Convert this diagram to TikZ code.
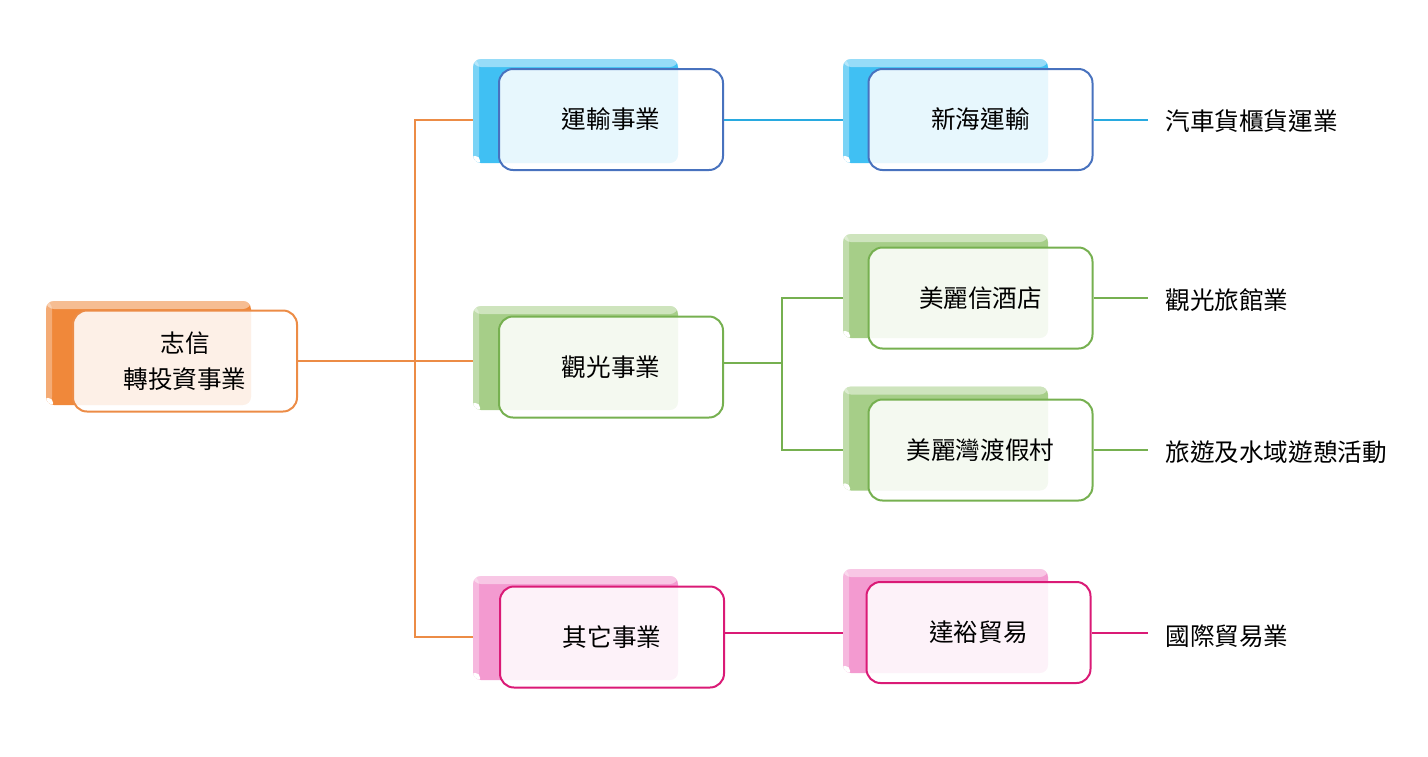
\documentclass[tikz,border=0pt]{standalone}
\usepackage{fontspec}
\setmainfont{Noto Sans CJK TC}
\usepackage{tikz}
\usetikzlibrary{calc,positioning,backgrounds}
\definecolor{my_orange}{RGB}{240, 136, 58}
\definecolor{my_orange_l}{RGB}{236, 140, 70}
\definecolor{my_blue}{RGB}{64, 192, 243}
\definecolor{my_blue_d}{RGB}{72, 114, 190}
\definecolor{my_blue_l}{RGB}{40, 170, 224}
\definecolor{my_green}{RGB}{166, 206, 136}
\definecolor{my_green_d}{RGB}{118, 176, 80}
\definecolor{my_pink}{RGB}{243, 154, 208}
\definecolor{my_pink_d}{RGB}{218, 26, 118}
\tikzset{
  biznode/.style = {draw, rounded corners=7pt, fill=white, fill opacity=0.88, text opacity=1,
  minimum width=112pt, minimum height=50.5pt, line width=1pt, align=center, text=black,
  font=\fontsize{12.3}{18}\selectfont},
  biz_o/.style = {biznode, draw=my_orange_l},
  biz_b/.style = {biznode, draw=my_blue_d},
  biz_g/.style = {biznode, draw=my_green_d},
  biz_p/.style = {biznode, draw=my_pink_d},
  tab/.style = {rounded corners=4pt, inner sep=0pt, minimum width=102.5pt, minimum height=52pt,
  fill=#1, path picture={
    \fill[white, opacity=0.45] (path picture bounding box.north west) rectangle
      ([yshift=-4pt]path picture bounding box.north east);
    \fill[white, opacity=0.3] (path picture bounding box.north west) rectangle
      ([xshift=3pt]path picture bounding box.south west);
    \fill[white] ([shift={(1pt,1pt)}]path picture bounding box.south west) circle (2.6pt);}},
  leaf/.style = {anchor=west, inner xsep=8.5pt, inner ysep=2pt, font=\fontsize{12.3}{18}\selectfont}
}

\begin{document}
\begin{tikzpicture}[x=0.5pt, y=-0.5pt,
        	line_o/.style={draw=my_orange_l, line width=1pt},
        	line_b/.style={draw=my_blue_l, line width=1pt},
        	line_g/.style={draw=my_green_d, line width=1pt},
        	line_p/.style={draw=my_pink_d, line width=1pt}]
    \useasboundingbox (0,0) rectangle (1428,756);
    % front boxes
    \node [biz_o] (root) at (185,361) {志信\\轉投資事業};
    \node [biz_b] (trans) at (611,119.5) {運輸事業};
    \node [biz_g] (tour) at (611,367) {觀光事業};
    \node [biz_p] (other) at (612,637) {其它事業};
    \node [biz_b] (xinhai) at (980.5,119.5) {新海運輸};
    \node [biz_g] (hotel) at (980.5,298) {美麗信酒店};
    \node [biz_g] (resort) at (980.5,450) {美麗灣渡假村};
    \node [biz_p] (dayu) at (978.5,632.5) {達裕貿易};
    % tabs behind
    \begin{scope}[on background layer]
        \node [tab=my_orange] (root_t) at ([shift={(-36.5,-8)}]root.center) {};
        \node [tab=my_blue] (trans_t) at ([shift={(-35.5,-8.5)}]trans.center) {};
        \node [tab=my_green] (tour_t) at ([shift={(-35.5,-9)}]tour.center) {};
        \node [tab=my_pink] (other_t) at ([shift={(-36.5,-9)}]other.center) {};
        \node [tab=my_blue] (xinhai_t) at ([shift={(-35,-8.5)}]xinhai.center) {};
        \node [tab=my_green] (hotel_t) at ([shift={(-35,-12)}]hotel.center) {};
        \node [tab=my_green] (resort_t) at ([shift={(-35,-11.5)}]resort.center) {};
        \node [tab=my_pink] (dayu_t) at ([shift={(-33,-11.5)}]dayu.center) {};
    \end{scope}
    % leaves
    \node [leaf] (l_truck) at (1148,121) {汽車貨櫃貨運業};
    \node [leaf] (l_hotel) at (1148,300) {觀光旅館業};
    \node [leaf] (l_resort) at (1148,452) {旅遊及水域遊憩活動};
    \node [leaf] (l_trade) at (1148,636) {國際貿易業};
    % connectors
    \coordinate (trunk) at (415,361);
    \coordinate (split) at (782,363);
    \draw [line_o] (root.east) -- (trunk);
    \draw [line_o] (trunk) |- (trans_t.west |- trans.west);
    \draw [line_o] (trunk) -- (tour_t.west |- trunk);
    \draw [line_o] (trunk) |- (other_t.west |- other.west);
    \draw [line_b] (trans.east) -- (xinhai_t.west |- trans.east);
    \draw [line_g] (tour.east |- split) -- (split);
    \draw [line_g] (split) |- (hotel_t.west |- hotel.west);
    \draw [line_g] (split) |- (resort_t.west |- resort.west);
    \draw [line_p] (other.east |- dayu.east) -- (dayu_t.west |- dayu.east);
    \draw [line_b] (xinhai.east) -- (xinhai.east -| l_truck.west);
    \draw [line_g] (hotel.east) -- (hotel.east -| l_hotel.west);
    \draw [line_g] (resort.east) -- (resort.east -| l_resort.west);
    \draw [line_p] (dayu.east) -- (dayu.east -| l_trade.west);
\end{tikzpicture}
\end{document}
